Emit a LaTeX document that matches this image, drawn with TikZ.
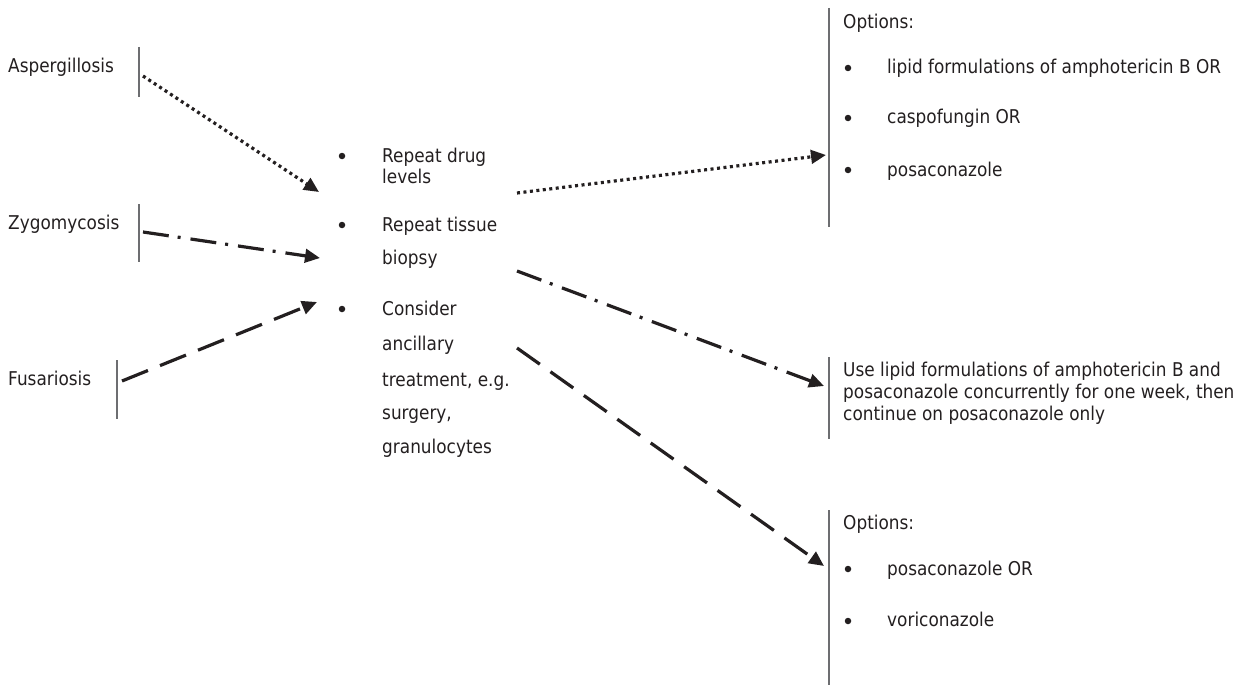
\documentclass[tikz,border=0pt]{standalone}
\usepackage{fontspec}
\setmainfont{DejaVu Sans}[FakeStretch=0.89]
\usetikzlibrary{arrows.meta}
\definecolor{ink}{HTML}{231F20}
\definecolor{rulegray}{HTML}{6D6E71}

\begin{document}
\begin{tikzpicture}[x=1pt,y=-1pt,
  lbl/.style={anchor=base west, inner sep=0pt, text=ink, font=\fontsize{19}{22}\selectfont},
  bar/.style={draw=rulegray, line width=1.3pt},
  blt/.style={circle, fill=ink, inner sep=0pt, minimum size=6.5pt},
  conn/.style={line width=3.2pt, draw=ink, -{Triangle[length=15pt,width=13.5pt]}},
  dotline/.style={conn, dash pattern=on 3pt off 3.5pt},
  dashdotline/.style={conn, dash pattern=on 26pt off 9pt on 3pt off 10pt},
  dashline/.style={conn, dash pattern=on 28pt off 13pt},
]
\useasboundingbox (0,0) rectangle (1251,685);

% infections on the left
\node[lbl] (asp) at (8,73)  {Aspergillosis};
\node[lbl] (zyg) at (8,229) {Zygomycosis};
\node[lbl] (fus) at (8,385) {Fusariosis};
\draw[bar] (139,47)  -- (139,97);
\draw[bar] (139,204) -- (139,262);
\draw[bar] (117,360) -- (117,419);

% central list of actions
\node[blt] (b1) at (342,156) {};
\node[lbl] (m1a) at (382,162) {Repeat drug};
\node[lbl] (m1b) at (382,183) {levels};
\node[blt] (b2) at (342,225) {};
\node[lbl] (m2a) at (382,231) {Repeat tissue};
\node[lbl] (m2b) at (382,264) {biopsy};
\node[blt] (b3) at (342,309) {};
\node[lbl] (m3a) at (382,315) {Consider};
\node[lbl] (m3b) at (382,350) {ancillary};
\node[lbl] (m3c) at (382,386) {treatment, e.g.};
\node[lbl] (m3d) at (382,419) {surgery,};
\node[lbl] (m3e) at (382,453) {granulocytes};

% options for aspergillosis
\draw[bar] (829,8) -- (829,227);
\node[lbl] (o1h) at (843,29) {Options:};
\node[blt] (o1b1) at (848,68) {};
\node[lbl] (o1t1) at (887,74) {lipid formulations of amphotericin B OR};
\node[blt] (o1b2) at (848,118) {};
\node[lbl] (o1t2) at (887,124) {caspofungin OR};
\node[blt] (o1b3) at (848,170) {};
\node[lbl] (o1t3) at (887,176) {posaconazole};

% treatment for zygomycosis
\draw[bar] (829,357) -- (829,439);
\node[lbl] (o2t1) at (843,376) {Use lipid formulations of amphotericin B and};
\node[lbl] (o2t2) at (843,398) {posaconazole concurrently for one week, then};
\node[lbl] (o2t3) at (843,420) {continue on posaconazole only};

% options for fusariosis
\draw[bar] (829,510) -- (829,685);
\node[lbl] (o3h) at (843,529) {Options:};
\node[blt] (o3b1) at (848,569) {};
\node[lbl] (o3t1) at (887,575) {posaconazole OR};
\node[blt] (o3b2) at (848,621) {};
\node[lbl] (o3t2) at (887,626) {voriconazole};

% connector end points
\coordinate (aspS) at (143,76);
\coordinate (aspE) at (319,192);
\coordinate (zygS) at (143,232);
\coordinate (zygE) at (320,258);
\coordinate (fusS) at (122,381);
\coordinate (fusE) at (317,302);
\coordinate (o1S) at (517,193);
\coordinate (o1E) at (826,155);
\coordinate (o2S) at (517,271);
\coordinate (o2E) at (824,386);
\coordinate (o3S) at (517,348);
\coordinate (o3E) at (824,566);

% connectors
\draw[dotline]     (aspS) -- (aspE);
\draw[dashdotline] (zygS) -- (zygE);
\draw[dashline]    (fusS) -- (fusE);
\draw[dotline]     (o1S) -- (o1E);
\draw[dashdotline] (o2S) -- (o2E);
\draw[dashline]    (o3S) -- (o3E);
\end{tikzpicture}
\end{document}
